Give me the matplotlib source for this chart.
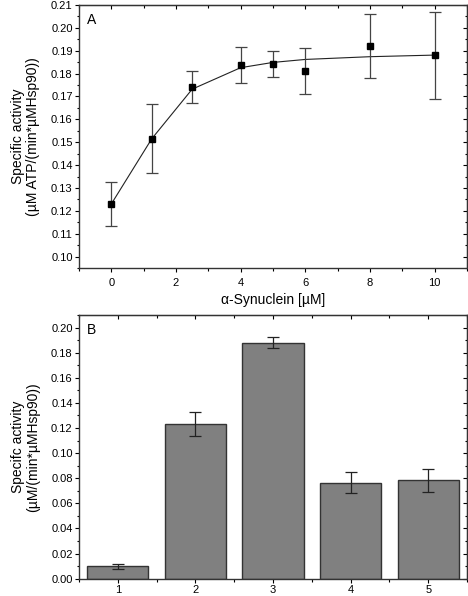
import matplotlib
matplotlib.use("Agg")
import matplotlib.pyplot as plt
from matplotlib.ticker import MultipleLocator, FormatStrFormatter

plt.rcParams['font.family'] = ['Liberation Sans', 'DejaVu Sans']

# panel A data
syn_conc = [0, 1.25, 2.5, 4, 5, 6, 8, 10]
activity = [0.123, 0.1515, 0.174, 0.1837, 0.1841, 0.1811, 0.1921, 0.1881]
activity_err = [0.0097, 0.015, 0.007, 0.0078, 0.0056, 0.0099, 0.014, 0.019]
fit_x = [0, 1.25, 2.5, 4, 5, 6, 8, 10]
fit_y = [0.123, 0.1515, 0.1732, 0.1826, 0.1849, 0.1862, 0.1874, 0.1881]

# panel B data
bar_pos = [1, 2, 3, 4, 5]
bar_val = [0.0099, 0.123, 0.1879, 0.0765, 0.0785]
bar_err = [0.002, 0.0097, 0.0042, 0.0084, 0.0092]


def style_axes(ax):
    ax.tick_params(which='both', direction='out', top=False, right=False, labelsize=8, pad=1.5)
    ax.tick_params(which='major', length=3, width=0.8)
    ax.tick_params(which='minor', length=1.8, width=0.8)
    sec = ax.secondary_xaxis('top')
    sec.tick_params(which='both', direction='in', labeltop=False)
    sec.tick_params(which='major', length=3, width=0.8)
    sec.tick_params(which='minor', length=1.8, width=0.8)
    sec.xaxis.set_major_locator(ax.xaxis.get_major_locator())
    sec.xaxis.set_minor_locator(ax.xaxis.get_minor_locator())
    sec.set_xticklabels([])
    sec2 = ax.secondary_yaxis('right')
    sec2.tick_params(which='both', direction='in', labelright=False)
    sec2.tick_params(which='major', length=3, width=0.8)
    sec2.tick_params(which='minor', length=1.8, width=0.8)
    sec2.yaxis.set_major_locator(ax.yaxis.get_major_locator())
    sec2.yaxis.set_minor_locator(ax.yaxis.get_minor_locator())
    sec2.set_yticklabels([])
    for s in ax.spines.values():
        s.set_linewidth(1.0)
        s.set_color('#333333')


fig = plt.figure(figsize=(4.68, 5.96), dpi=100)

# A
ax1 = fig.add_axes([0.1688, 0.5503, 0.829, 0.4413])
ax1.plot(fit_x, fit_y, color='#222222', lw=0.8)
ax1.errorbar(syn_conc, activity, yerr=activity_err, fmt='s', color='black',
             ms=5, ecolor='#444444', elinewidth=0.9, capsize=4.5, capthick=0.9)
ax1.set_xlim(-1, 11)
ax1.set_ylim(0.095, 0.21)
ax1.xaxis.set_major_locator(MultipleLocator(2))
ax1.xaxis.set_minor_locator(MultipleLocator(1))
ax1.yaxis.set_major_locator(MultipleLocator(0.01))
ax1.yaxis.set_minor_locator(MultipleLocator(0.005))
ax1.yaxis.set_major_formatter(FormatStrFormatter('%.2f'))
ax1.set_xlabel(u"\u03b1-Synuclein [\u00b5M]", fontsize=10, labelpad=4)
ax1.set_ylabel(u"Specific activity\n(\u00b5M ATP/(min*\u00b5MHsp90))", fontsize=10,
               linespacing=1.15)
ax1.yaxis.set_label_coords(-0.1, 0.5)
ax1.text(0.02, 0.97, "A", transform=ax1.transAxes, fontsize=10, va='top', ha='left')
style_axes(ax1)
ax1.tick_params(axis='x', pad=4)

# B
ax2 = fig.add_axes([0.1688, 0.029, 0.829, 0.4425])
ax2.bar(bar_pos, bar_val, width=0.79, color='#808080', edgecolor='#333333', linewidth=1.0)
ax2.errorbar(bar_pos, bar_val, yerr=bar_err, fmt='none', ecolor='#222222',
             elinewidth=0.9, capsize=4, capthick=0.9)
ax2.set_xlim(0.5, 5.5)
ax2.set_ylim(0, 0.21)
ax2.xaxis.set_major_locator(MultipleLocator(1))
ax2.xaxis.set_minor_locator(MultipleLocator(0.5))
ax2.yaxis.set_major_locator(MultipleLocator(0.02))
ax2.yaxis.set_minor_locator(MultipleLocator(0.01))
ax2.yaxis.set_major_formatter(FormatStrFormatter('%.2f'))
ax2.set_ylabel(u"Specifc activity\n(\u00b5M/(min*\u00b5MHsp90))", fontsize=10,
               linespacing=1.15)
ax2.yaxis.set_label_coords(-0.1, 0.5)
ax2.text(0.02, 0.97, "B", transform=ax2.transAxes, fontsize=10, va='top', ha='left')
style_axes(ax2)

fig.savefig("out.png", dpi=100)
